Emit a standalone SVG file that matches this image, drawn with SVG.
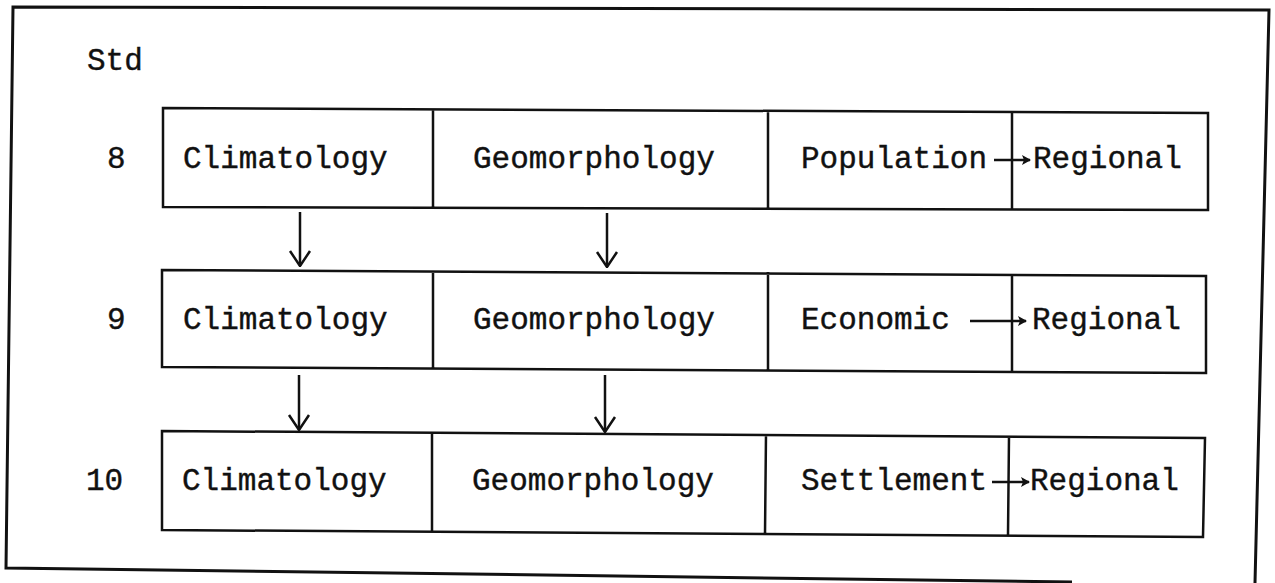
<svg xmlns="http://www.w3.org/2000/svg" width="1275" height="583" viewBox="0 0 1275 583">
<style>
.frame{fill:none;stroke:#111;stroke-width:3}
.box{fill:none;stroke:#111;stroke-width:2.5}
.t{font-family:"Liberation Mono","Courier New",monospace;font-size:31px;fill:#111;stroke:#111;stroke-width:0.4}
.c{stroke:#111;stroke-width:2.5;fill:none}
</style>
<defs>
<marker id="vh" viewBox="0 0 17 24" refX="16" refY="12" markerWidth="17" markerHeight="24" markerUnits="userSpaceOnUse" orient="auto">
<path d="M1,2 L16,12 L1,22" fill="none" stroke="#111" stroke-width="2.5"/>
</marker>
<marker id="sh" viewBox="0 0 10 10" refX="9" refY="5" markerWidth="10" markerHeight="10" markerUnits="userSpaceOnUse" orient="auto">
<path d="M1,0 L10,5 L1,10 L3,5 Z" fill="#111"/>
</marker>
</defs>
<polyline class="frame" points="1072,582 6,568 13,7 1269,10 1255,583"/>
<text class="t" x="87" y="70">Std</text>
<text class="t" x="107" y="168">8</text>
<text class="t" x="107" y="329">9</text>
<text class="t" x="86" y="490">10</text>
<g id="row8">
<path class="box" d="M163,108 L1208,113 L1208,210 L163,207 Z M433,109 L433,208 M768,110 L768,209 M1012,112 L1012,210"/>
<text class="t" x="183" y="168">Climatology</text>
<text class="t" x="473" y="168">Geomorphology</text>
<text class="t" x="801" y="168">Population</text>
<text class="t" x="1033" y="168">Regional</text>
</g>
<g id="row9">
<path class="box" d="M162,270 L1206,276 L1206,373 L162,367 Z M433,271 L433,368 M768,272 L768,370 M1012,274 L1012,372"/>
<text class="t" x="183" y="329">Climatology</text>
<text class="t" x="473" y="329">Geomorphology</text>
<text class="t" x="801" y="329">Economic</text>
<text class="t" x="1032" y="329">Regional</text>
</g>
<g id="row10">
<path class="box" d="M162,431 L1205,438 L1203,537 L162,530 Z M432,432 L432,531 M766,434 L765,534 M1009,436 L1008,535"/>
<text class="t" x="182" y="490">Climatology</text>
<text class="t" x="472" y="490">Geomorphology</text>
<text class="t" x="801" y="490">Settlement</text>
<text class="t" x="1030" y="490">Regional</text>
</g>
<g id="connectors">
<line class="c" x1="300" y1="212" x2="300" y2="266" marker-end="url(#vh)"/>
<line class="c" x1="607" y1="213" x2="607" y2="267" marker-end="url(#vh)"/>
<line class="c" x1="299" y1="375" x2="299" y2="430" marker-end="url(#vh)"/>
<line class="c" x1="605" y1="375" x2="605" y2="432" marker-end="url(#vh)"/>
<line class="c" x1="994" y1="160" x2="1030" y2="160" marker-end="url(#sh)"/>
<line class="c" x1="970" y1="321" x2="1026" y2="321" marker-end="url(#sh)"/>
<line class="c" x1="992" y1="482" x2="1029" y2="482" marker-end="url(#sh)"/>
</g>
</svg>
